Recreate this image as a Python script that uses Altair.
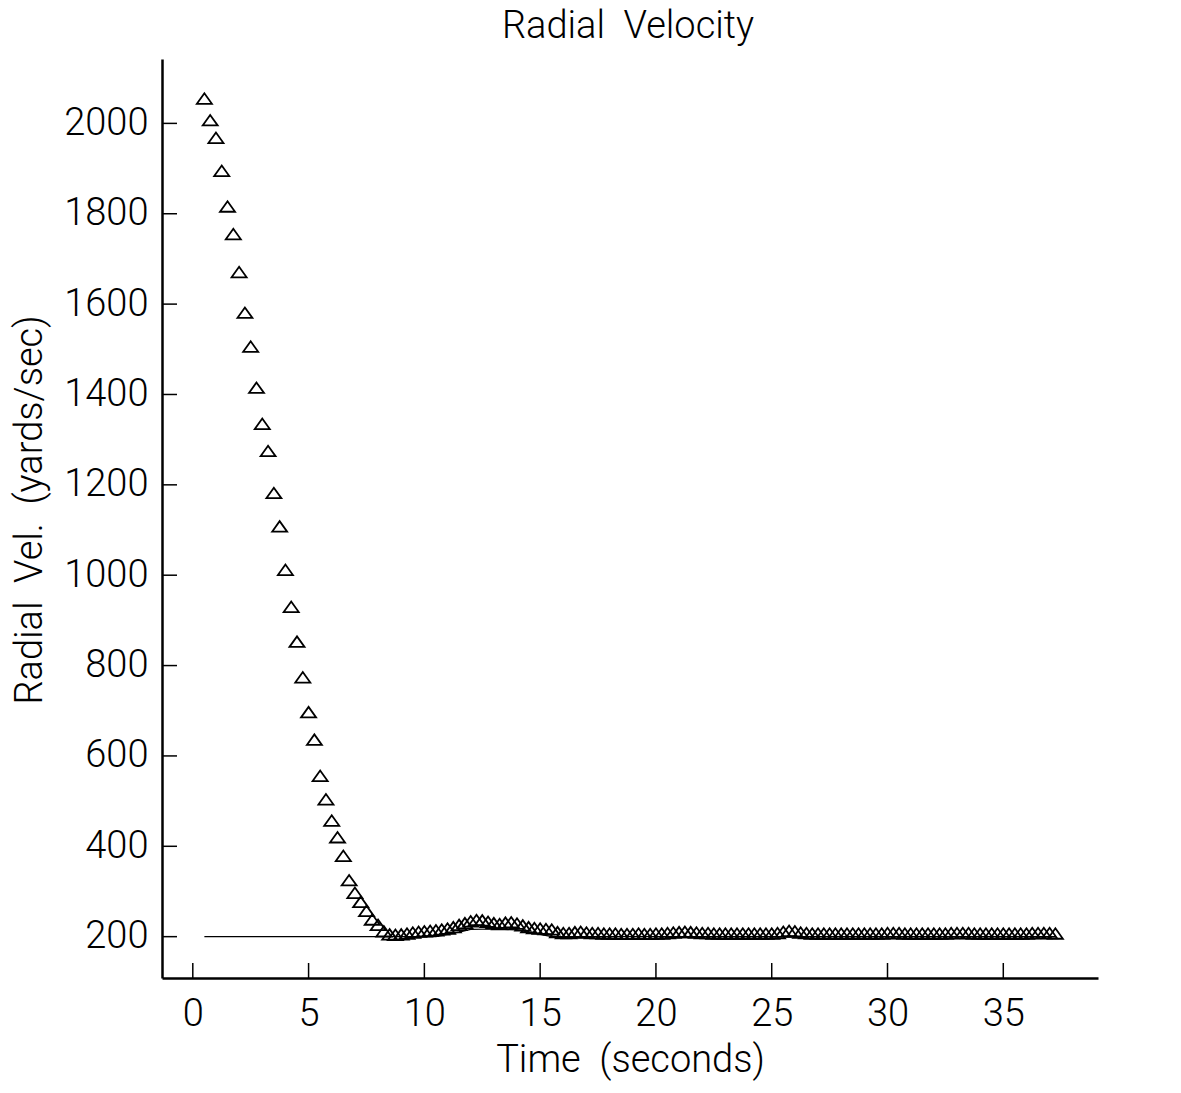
import altair as alt
import pandas as pd

# ---- data ----
time_s = [
    0.5, 0.75, 1.0, 1.25, 1.5, 1.75, 2.0, 2.25, 2.5, 2.75,
    3.0, 3.25, 3.5, 3.75, 4.0, 4.25, 4.5, 4.75, 5.0, 5.25,
    5.5, 5.75, 6.0, 6.25, 6.5, 6.75, 7.0, 7.25, 7.5, 7.75,
    8.0, 8.25, 8.5, 8.75, 9.0, 9.25, 9.5, 9.75, 10.0, 10.25,
    10.5, 10.75, 11.0, 11.25, 11.5, 11.75, 12.0, 12.25, 12.5, 12.75,
    13.0, 13.25, 13.5, 13.75, 14.0, 14.25, 14.5, 14.75, 15.0, 15.25,
    15.5, 15.75, 16.0,
    16.25, 16.5, 16.75, 17.0, 17.25, 17.5, 17.75, 18.0, 18.25, 18.5,
    18.75, 19.0, 19.25, 19.5, 19.75, 20.0, 20.25, 20.5, 20.75, 21.0,
    21.25, 21.5, 21.75, 22.0, 22.25, 22.5, 22.75, 23.0, 23.25, 23.5,
    23.75, 24.0, 24.25, 24.5, 24.75, 25.0, 25.25, 25.5, 25.75, 26.0,
    26.25, 26.5, 26.75, 27.0, 27.25, 27.5, 27.75, 28.0, 28.25, 28.5,
    28.75, 29.0, 29.25, 29.5, 29.75, 30.0, 30.25, 30.5, 30.75, 31.0,
    31.25, 31.5, 31.75, 32.0, 32.25, 32.5, 32.75, 33.0, 33.25, 33.5,
    33.75, 34.0, 34.25, 34.5, 34.75, 35.0, 35.25, 35.5, 35.75, 36.0,
    36.25, 36.5, 36.75, 37.0, 37.25,
]
radial_vel = [
    2055, 2007, 1968, 1895, 1816, 1755, 1671, 1581, 1506, 1415,
    1335, 1275, 1182, 1108, 1012, 930, 853, 774, 697, 636,
    556, 504, 457, 420, 379, 325, 297, 277, 257, 238,
    226, 212, 205, 204, 205, 207, 209, 211, 212, 213,
    214, 216, 218, 221, 226, 230, 234, 237, 236, 233,
    230, 228, 231, 232, 229, 225, 221, 219, 218, 217,
    216, 210, 208,
    208, 210, 211, 209, 208, 208, 207, 207, 207, 206,
    206, 206, 207, 206, 206, 207, 207, 208, 209, 210,
    211, 210, 209, 208, 208, 207, 207, 207, 207, 207,
    207, 207, 207, 207, 207, 207, 208, 211, 213, 212,
    209, 208, 207, 207, 207, 207, 207, 207, 207, 207,
    207, 207, 207, 207, 207, 208, 208, 208, 207, 207,
    207, 207, 207, 207, 207, 207, 208, 208, 208, 208,
    207, 207, 207, 207, 207, 207, 207, 207, 207, 207,
    208, 208, 208, 208, 207,
]
assert len(time_s) == len(radial_vel)

# thin reference curve under the triangles
ref_t = [0.5, 10.5, 11.5, 12.0, 13.0, 14.0, 15.0, 15.5, 37.25]
ref_v = [200, 200, 210, 216, 217, 215, 205, 200, 200]

x_ticks = [0, 5, 10, 15, 20, 25, 30, 35]
y_ticks = [200, 400, 600, 800, 1000, 1200, 1400, 1600, 1800, 2000]

chart_title = "Radial \u00a0Velocity"
x_title = "Time \u00a0(seconds)"
y_title = "Radial \u00a0Vel. \u00a0(yards/sec)"

pts = pd.DataFrame({"t": time_s, "v": radial_vel})
ref = pd.DataFrame({"t": ref_t, "v": ref_v})
xt = pd.DataFrame({"t": x_ticks})
yt = pd.DataFrame({"v": y_ticks})
one = pd.DataFrame({"k": [0]})

W, H = 936, 919
FONT = "Roboto"
FW = 300
FS = 38

xscale = alt.Scale(domain=[-1.33, 39.09], nice=False, zero=False)
yscale = alt.Scale(domain=[108.5, 2142.5], nice=False, zero=False)

x_axis = alt.Axis(
    values=x_ticks, format="d", title=x_title, grid=False, ticks=False,
    domainColor="black", domainWidth=2.5, labelFont=FONT, labelFontSize=FS,
    labelFontWeight=FW, labelColor="black", labelPadding=17, labelFlush=False,
    labelOverlap=False, titleFont=FONT, titleFontSize=FS, titleFontWeight=FW,
    titleColor="black", titleBaseline="alphabetic", titleX=W / 2, titleY=93,
)
y_axis = alt.Axis(
    values=y_ticks, format="d", title=None, grid=False, ticks=False,
    domainColor="black", domainWidth=2.5, labelFont=FONT, labelFontSize=FS,
    labelFontWeight=FW, labelColor="black", labelPadding=14, labelFlush=False,
    labelOverlap=False,
)

ref_line = alt.Chart(ref).mark_line(color="black", strokeWidth=1.2).encode(
    x=alt.X("t:Q", scale=xscale, axis=x_axis),
    y=alt.Y("v:Q", scale=yscale, axis=y_axis),
)

tri = alt.Chart(pts).mark_point(
    shape="M-1,0.7L0,-0.7L1,0.7Z", filled=False, stroke="black",
    strokeWidth=1.8, size=225, opacity=1,
).encode(
    x=alt.X("t:Q", scale=xscale),
    y=alt.Y("v:Q", scale=yscale),
)

x_tick_marks = alt.Chart(xt).mark_rule(color="black", strokeWidth=1.5).encode(
    x=alt.X("t:Q", scale=xscale),
    y=alt.value(H),
    y2=alt.value(H - 15),
)
y_tick_marks = alt.Chart(yt).mark_rule(color="black", strokeWidth=1.5).encode(
    y=alt.Y("v:Q", scale=yscale),
    x=alt.value(0),
    x2=alt.value(15),
)

title_mark = alt.Chart(one).mark_text(
    font=FONT, fontSize=FS, fontWeight=FW, color="black",
    align="center", baseline="alphabetic",
).encode(x=alt.value(W / 2 - 2), y=alt.value(-21), text=alt.value(chart_title))

ytitle_mark = alt.Chart(one).mark_text(
    font=FONT, fontSize=FS, fontWeight=FW, color="black",
    align="center", baseline="alphabetic", angle=270,
).encode(x=alt.value(-120), y=alt.value(451), text=alt.value(y_title))

chart = alt.layer(
    ref_line, x_tick_marks, y_tick_marks, tri, title_mark, ytitle_mark
).properties(
    width=W, height=H,
    autosize=alt.AutoSizeParams(type="none"),
    padding={"left": 162, "top": 59, "right": 83, "bottom": 115},
    background="white",
).configure_view(strokeWidth=0)

chart.save("out.html", embed_options={"renderer": "svg", "actions": False})
